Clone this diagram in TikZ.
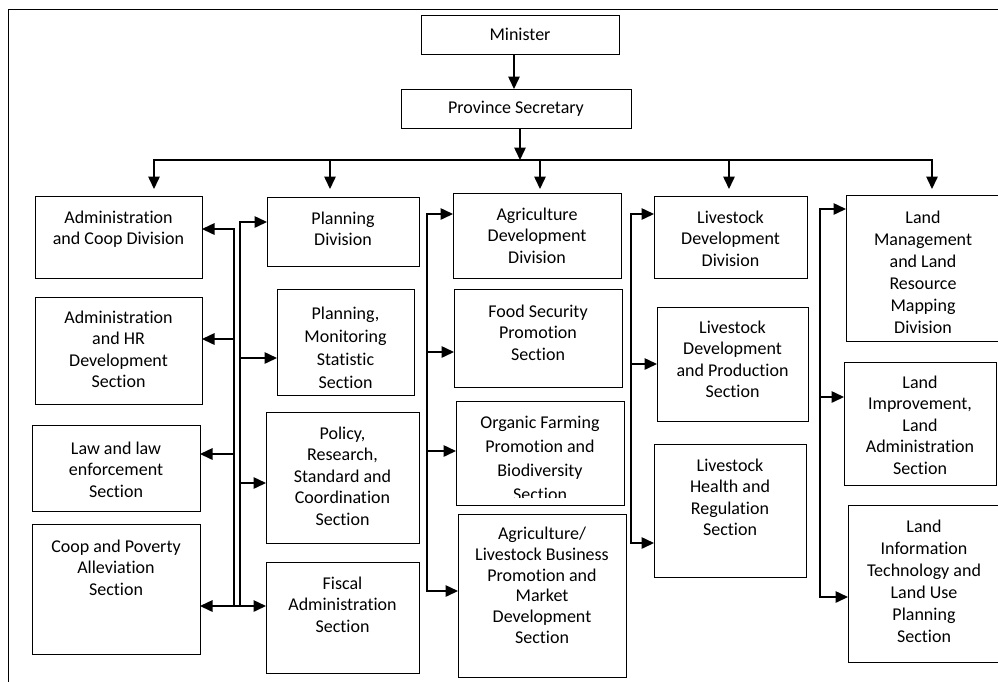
\documentclass[tikz,border=0pt]{standalone}
\usepackage{fontspec}
\setmainfont{Carlito}[Ligatures={NoCommon}]
\usetikzlibrary{arrows.meta}
\tikzset{
  boxst/.style={draw=black, line width=0.9pt, inner sep=0pt, outer sep=0pt, rectangle},
  txtst/.style={align=center, inner sep=0pt, outer sep=0pt, font=\fontsize{18}{21.6}\selectfont},
  conn/.style={line width=1.5pt, line join=miter},
  arr/.style={conn, -{Triangle[length=12.5pt,width=11.5pt]}},
  arrb/.style={conn, {Triangle[length=12.5pt,width=11.5pt]}-{Triangle[length=12.5pt,width=11.5pt]}},
}
% [#1 line spacing] #2 name, #3 left, #4 top, #5 right, #6 bottom, #7 first-line centre y, #8 text
\newcommand{\orgbox}[8][21.6]{%
  \node[boxst, minimum width={(#5-#3)*1pt}, minimum height={(#6-#4)*1pt}, anchor=north west] (#2) at (#3,#4) {};
  \node[txtst, font=\fontsize{18}{#1}\selectfont, anchor=north] (#2-t) at ({(#3+#5)/2},{#7-9}) {\strut #8};
}
\begin{document}
\begin{tikzpicture}[x=1pt,y=-1pt]
\useasboundingbox (0,0) rectangle (998,681);
% frame
\draw[line width=0.9pt] (8,690) -- (8,9) -- (1005,9);

% top
\node[boxst, txtst, minimum width=198pt, minimum height=39pt] (min) at (520,34.5) {Minister};
\node[boxst, txtst, minimum width=230pt, minimum height=39pt] (prov) at (516,108.5) {Province Secretary};

% column 1
\orgbox{admcoop}{35}{196}{202}{278}{217}{Administration\\and Coop Division}
\orgbox{admhr}{35}{297}{202}{404}{317}{Administration\\and HR\\Development\\Section}
\orgbox{law}{32}{425}{200}{511}{448}{Law and law\\enforcement\\Section}
\orgbox{coop}{32}{524}{200}{654}{546}{Coop and Poverty\\Alleviation\\Section}
% column 2
\orgbox{plandiv}{267}{197}{419}{266}{218}{Planning\\Division}
\orgbox[23.2]{planmon}{277}{289}{414}{395}{312}{Planning,\\Monitoring\\Statistic\\Section}
\orgbox{policy}{266}{412}{419}{543}{433}{Policy,\\Research,\\Standard and\\Coordination\\Section}
\orgbox{fiscal}{266}{562}{419}{673}{583}{Fiscal\\Administration\\Section}
% column 3
\orgbox{agridev}{453}{193}{621}{278}{214}{Agriculture\\Development\\Division}
\orgbox{food}{454}{289}{622}{387}{311}{Food Security\\Promotion\\Section}
\node[boxst, minimum width=168pt, minimum height=104pt, anchor=north west] (organic) at (456,401) {};
\begin{scope}
  \clip (457,402) rectangle (623,497);
  \node[txtst, font=\fontsize{18}{24}\selectfont, anchor=north] (organic-t) at (540,412) {\strut Organic Farming\\Promotion and\\Biodiversity\\Section};
\end{scope}
\orgbox[20.8]{agribiz}{458}{514}{626}{677}{534}{Agriculture/\\Livestock Business\\Promotion and\\Market\\Development\\Section}
% column 4
\orgbox{livdiv}{654}{196}{807}{278}{217}{Livestock\\Development\\Division}
\orgbox{livprod}{657}{307}{808}{421}{327}{Livestock\\Development\\and Production\\Section}
\orgbox{livhealth}{654}{444}{806}{577}{465}{Livestock\\Health and\\Regulation\\Section}
% column 5
\orgbox[22]{landmgmt}{846}{195}{1000}{341}{217}{Land\\Management\\and Land\\Resource\\Mapping\\Division}
\orgbox{landimp}{844}{362}{996}{485}{382}{Land\\Improvement,\\Land\\Administration\\Section}
\orgbox[22]{landinfo}{848}{505}{1000}{662}{526}{Land\\Information\\Technology and\\Land Use\\Planning\\Section}

% coordinates
\coordinate (mx) at (514,0);
\coordinate (pbus) at (520,160);
\coordinate (b1) at (154,160); \coordinate (d1) at (154,189);
\coordinate (b2) at (330,160); \coordinate (d2) at (330,189);
\coordinate (b3) at (540,160); \coordinate (d3) at (540,189);
\coordinate (b4) at (729,160); \coordinate (d4) at (729,189);
\coordinate (b5) at (932,160); \coordinate (d5) at (932,189);

\coordinate (t1top) at (234,229); \coordinate (t1b) at (234,339);
\coordinate (t1c) at (234,454); \coordinate (t1bot) at (234,606);
\coordinate (t2top) at (240,222); \coordinate (t2b) at (240,358);
\coordinate (t2c) at (240,483); \coordinate (t2bot) at (240,606);
\coordinate (t3top) at (427,214); \coordinate (t3b) at (427,352);
\coordinate (t3c) at (427,451); \coordinate (t3bot) at (427,591);
\coordinate (t4top) at (631,214); \coordinate (t4b) at (631,364);
\coordinate (t4bot) at (631,543);
\coordinate (t5top) at (820,209); \coordinate (t5b) at (820,397);
\coordinate (t5bot) at (820,597);

% top connectors
\draw[arr] (min.south -| mx) -- (prov.north -| mx);
\draw[arr] (prov.south -| pbus) -- (pbus);
\draw[arrb] (d1) -- (b1) -- (b5) -- (d5);
\draw[arr] (b2) -- (d2);
\draw[arr] (b3) -- (d3);
\draw[arr] (b4) -- (d4);

% column 1
\draw[arr] (t1bot) -- (t1top) -- (t1top -| admcoop.east);
\draw[arr] (t1b) -- (t1b -| admhr.east);
\draw[arr] (t1c) -- (t1c -| law.east);
\draw[arrb] (t1bot -| coop.east) -- (t1bot -| fiscal.west);
% column 2
\draw[arr] (t2bot) -- (t2top) -- (t2top -| plandiv.west);
\draw[arr] (t2b) -- (t2b -| planmon.west);
\draw[arr] (t2c) -- (t2c -| policy.west);
% column 3
\draw[arrb] (t3bot -| agribiz.west) -- (t3bot) -- (t3top) -- (t3top -| agridev.west);
\draw[arr] (t3b) -- (t3b -| food.west);
\draw[arr] (t3c) -- (t3c -| organic.west);
% column 4
\draw[arrb] (t4bot -| livhealth.west) -- (t4bot) -- (t4top) -- (t4top -| livdiv.west);
\draw[arr] (t4b) -- (t4b -| livprod.west);
% column 5
\draw[arrb] (t5bot -| landinfo.west) -- (t5bot) -- (t5top) -- (t5top -| landmgmt.west);
\draw[arr] (t5b) -- (t5b -| landimp.west);
\end{tikzpicture}
\end{document}
